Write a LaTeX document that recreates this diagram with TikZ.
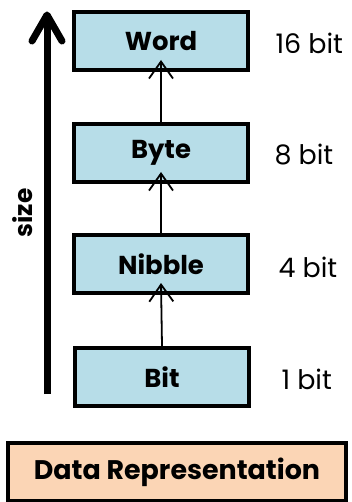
\documentclass[tikz,border=0pt]{standalone}
\usepackage{fontspec}
\setmainfont{Poppins}
\usetikzlibrary{arrows.meta}
\definecolor{levelblue}{HTML}{B7DDE8}
\definecolor{titlepeach}{HTML}{FBD5B5}
\tikzset{
  level/.style={draw=black, line width=4bp, fill=levelblue, minimum width=174bp,
    minimum height=58bp, font=\fontsize{26}{30}\selectfont\bfseries, inner sep=0pt},
  bits/.style={font=\fontsize{27}{30}\selectfont, anchor=west},
  up/.style={line width=1.8bp, -{Straight Barb[length=17bp, width=24bp]}},
  sizearrow/.style={line width=7bp, line join=round},
  titlebox/.style={draw=black, line width=4bp, fill=titlepeach, minimum width=337bp,
    minimum height=58bp, font=\fontsize{27}{30}\selectfont\bfseries, inner sep=0pt}
}
\begin{document}
\begin{tikzpicture}[x=1bp, y=-1bp]
\useasboundingbox (0,0) rectangle (351,502);
% the four levels, smallest at the bottom
\node[level] (word)   at (161,41)  {Word};
\node[level] (byte)   at (161,153) {Byte};
\node[level] (nibble) at (161,264) {Nibble};
\node[level] (bit)    at (162,377) {Bit};
% widths in bits
\node[bits] (w16) at (272,43)  {16 bit};
\node[bits] (w8)  at (271,155) {8 bit};
\node[bits] (w4)  at (275,267) {4 bit};
\node[bits] (w1)  at (278,379) {1 bit};
% links between levels
\draw[up] (bit.north)    -- ([yshift=12bp]nibble.south);
\draw[up] (nibble.north) -- ([yshift=12bp]byte.south);
\draw[up] (byte.north)   -- ([yshift=12bp]word.south);
% growing size axis
\coordinate (sbot) at (47,394);
\coordinate (stip) at (47,15);
\coordinate (sleft) at (32,41);
\coordinate (sright) at (62,41);
\draw[sizearrow] (sbot) -- (stip);
\draw[sizearrow, line cap=round] (sleft) -- (stip) -- (sright);
\node[rotate=90, font=\fontsize{25}{28}\selectfont\bfseries] (size) at (23,213) {size};
% title
\node[titlebox] (title) at (177,472) {Data Representation};
\end{tikzpicture}
\end{document}
